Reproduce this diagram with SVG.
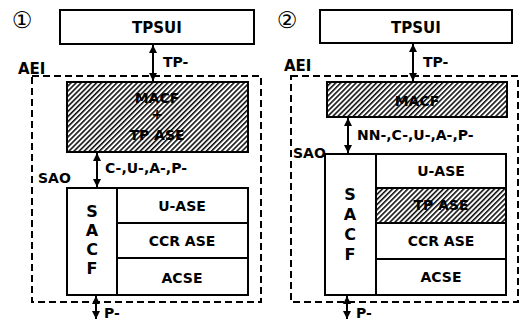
<svg xmlns="http://www.w3.org/2000/svg" width="520" height="320" viewBox="0 0 520 320">
<style>
text{font-family:"DejaVu Sans","Noto Sans CJK JP",sans-serif;font-weight:bold;fill:#000}
.c{text-anchor:middle}
.box{fill:#fff;stroke:#000;stroke-width:2}
.hat{fill:url(#hatch);stroke:#000;stroke-width:2}
.aei{fill:none;stroke:#000;stroke-width:2;stroke-dasharray:7 4}
.arr{stroke:#000;stroke-width:2;fill:none;marker-start:url(#ah);marker-end:url(#ah)}
.lbl{font-size:14px}
.big{font-size:15px}
.sacf{font-size:16px}
.num{font-size:23px;font-weight:normal}
</style>
<defs>
<pattern id="hatch" patternUnits="userSpaceOnUse" width="3.6" height="3.6" patternTransform="rotate(45)">
<rect width="3.6" height="3.6" fill="#fff"/>
<line x1="0.8" y1="0" x2="0.8" y2="3.6" stroke="#000" stroke-width="1.5"/>
</pattern>
<marker id="ah" markerUnits="userSpaceOnUse" markerWidth="10" markerHeight="10" refX="8" refY="5" orient="auto-start-reverse">
<path d="M0,1 L8,5 L0,9 Z" fill="#000"/>
</marker>
</defs>
<rect width="520" height="320" fill="#fff"/>

<g id="panel1-label"><text x="22" y="28" class="c num">①</text></g>
<g id="panel2-label"><text x="287" y="28" class="c num">②</text></g>

<!-- Panel 1 -->
<g id="aei1">
<rect x="32" y="76" width="229" height="226" class="aei"/>
<text x="18" y="74" class="big">AEI</text>
</g>
<g id="tpsui1">
<rect x="60" y="10" width="194" height="34" class="box"/>
<text x="157" y="33" class="c big">TPSUI</text>
</g>
<g id="macf1">
<rect x="67" y="82" width="181" height="70" class="hat"/>
<text x="157" y="103" class="c lbl">MACF</text>
<text x="157" y="119" class="c lbl">+</text>
<text x="157" y="140" class="c lbl">TP ASE</text>
</g>
<g id="sao1"><text x="38" y="183" class="lbl">SAO</text></g>
<g id="sacf1">
<rect x="67" y="188" width="50" height="107" class="box"/>
<text class="c sacf"><tspan x="92" y="217">S</tspan><tspan x="92" y="236">A</tspan><tspan x="92" y="255">C</tspan><tspan x="92" y="274">F</tspan></text>
</g>
<g id="uase1">
<rect x="117" y="188" width="131" height="35" class="box"/>
<text x="182" y="211" class="c lbl">U-ASE</text>
</g>
<g id="ccr1">
<rect x="117" y="223" width="131" height="35" class="box"/>
<text x="182" y="246" class="c lbl">CCR ASE</text>
</g>
<g id="acse1">
<rect x="117" y="258" width="131" height="37" class="box"/>
<text x="182" y="283" class="c lbl">ACSE</text>
</g>

<!-- Panel 2 -->
<g id="aei2">
<rect x="291" y="76" width="227" height="226" class="aei"/>
<text x="284" y="71" class="big">AEI</text>
</g>
<g id="tpsui2">
<rect x="320" y="10" width="192" height="33" class="box"/>
<text x="416" y="33" class="c big">TPSUI</text>
</g>
<g id="macf2">
<rect x="327" y="82" width="180" height="35" class="hat"/>
<text x="417" y="106" class="c lbl">MACF</text>
</g>
<g id="sao2"><text x="293" y="158" class="lbl">SAO</text></g>
<g id="sacf2">
<rect x="325" y="154" width="51" height="141" class="box"/>
<text class="c sacf"><tspan x="350" y="200">S</tspan><tspan x="350" y="220">A</tspan><tspan x="350" y="240">C</tspan><tspan x="350" y="260">F</tspan></text>
</g>
<g id="uase2">
<rect x="376" y="154" width="130" height="34" class="box"/>
<text x="441" y="176" class="c lbl">U-ASE</text>
</g>
<g id="tpase2">
<rect x="376" y="188" width="130" height="35" class="hat"/>
<text x="441" y="210" class="c lbl">TP ASE</text>
</g>
<g id="ccr2">
<rect x="376" y="223" width="130" height="36" class="box"/>
<text x="441" y="246" class="c lbl">CCR ASE</text>
</g>
<g id="acse2">
<rect x="376" y="259" width="130" height="36" class="box"/>
<text x="441" y="282" class="c lbl">ACSE</text>
</g>

<g id="connectors">
<line x1="153" y1="45" x2="153" y2="81" class="arr"/>
<text x="163" y="67" class="lbl">TP-</text>
<line x1="97" y1="153" x2="97" y2="187" class="arr"/>
<text x="105" y="173" class="lbl">C-,U-,A-,P-</text>
<line x1="96" y1="296" x2="96" y2="319" class="arr"/>
<text x="104" y="318" class="lbl">P-</text>

<line x1="413" y1="44" x2="413" y2="81" class="arr"/>
<text x="423" y="67" class="lbl">TP-</text>
<line x1="348" y1="118" x2="348" y2="153" class="arr"/>
<text x="357" y="140" class="lbl">NN-,C-,U-,A-,P-</text>
<line x1="347" y1="296" x2="347" y2="319" class="arr"/>
<text x="356" y="318" class="lbl">P-</text>
</g>
</svg>
